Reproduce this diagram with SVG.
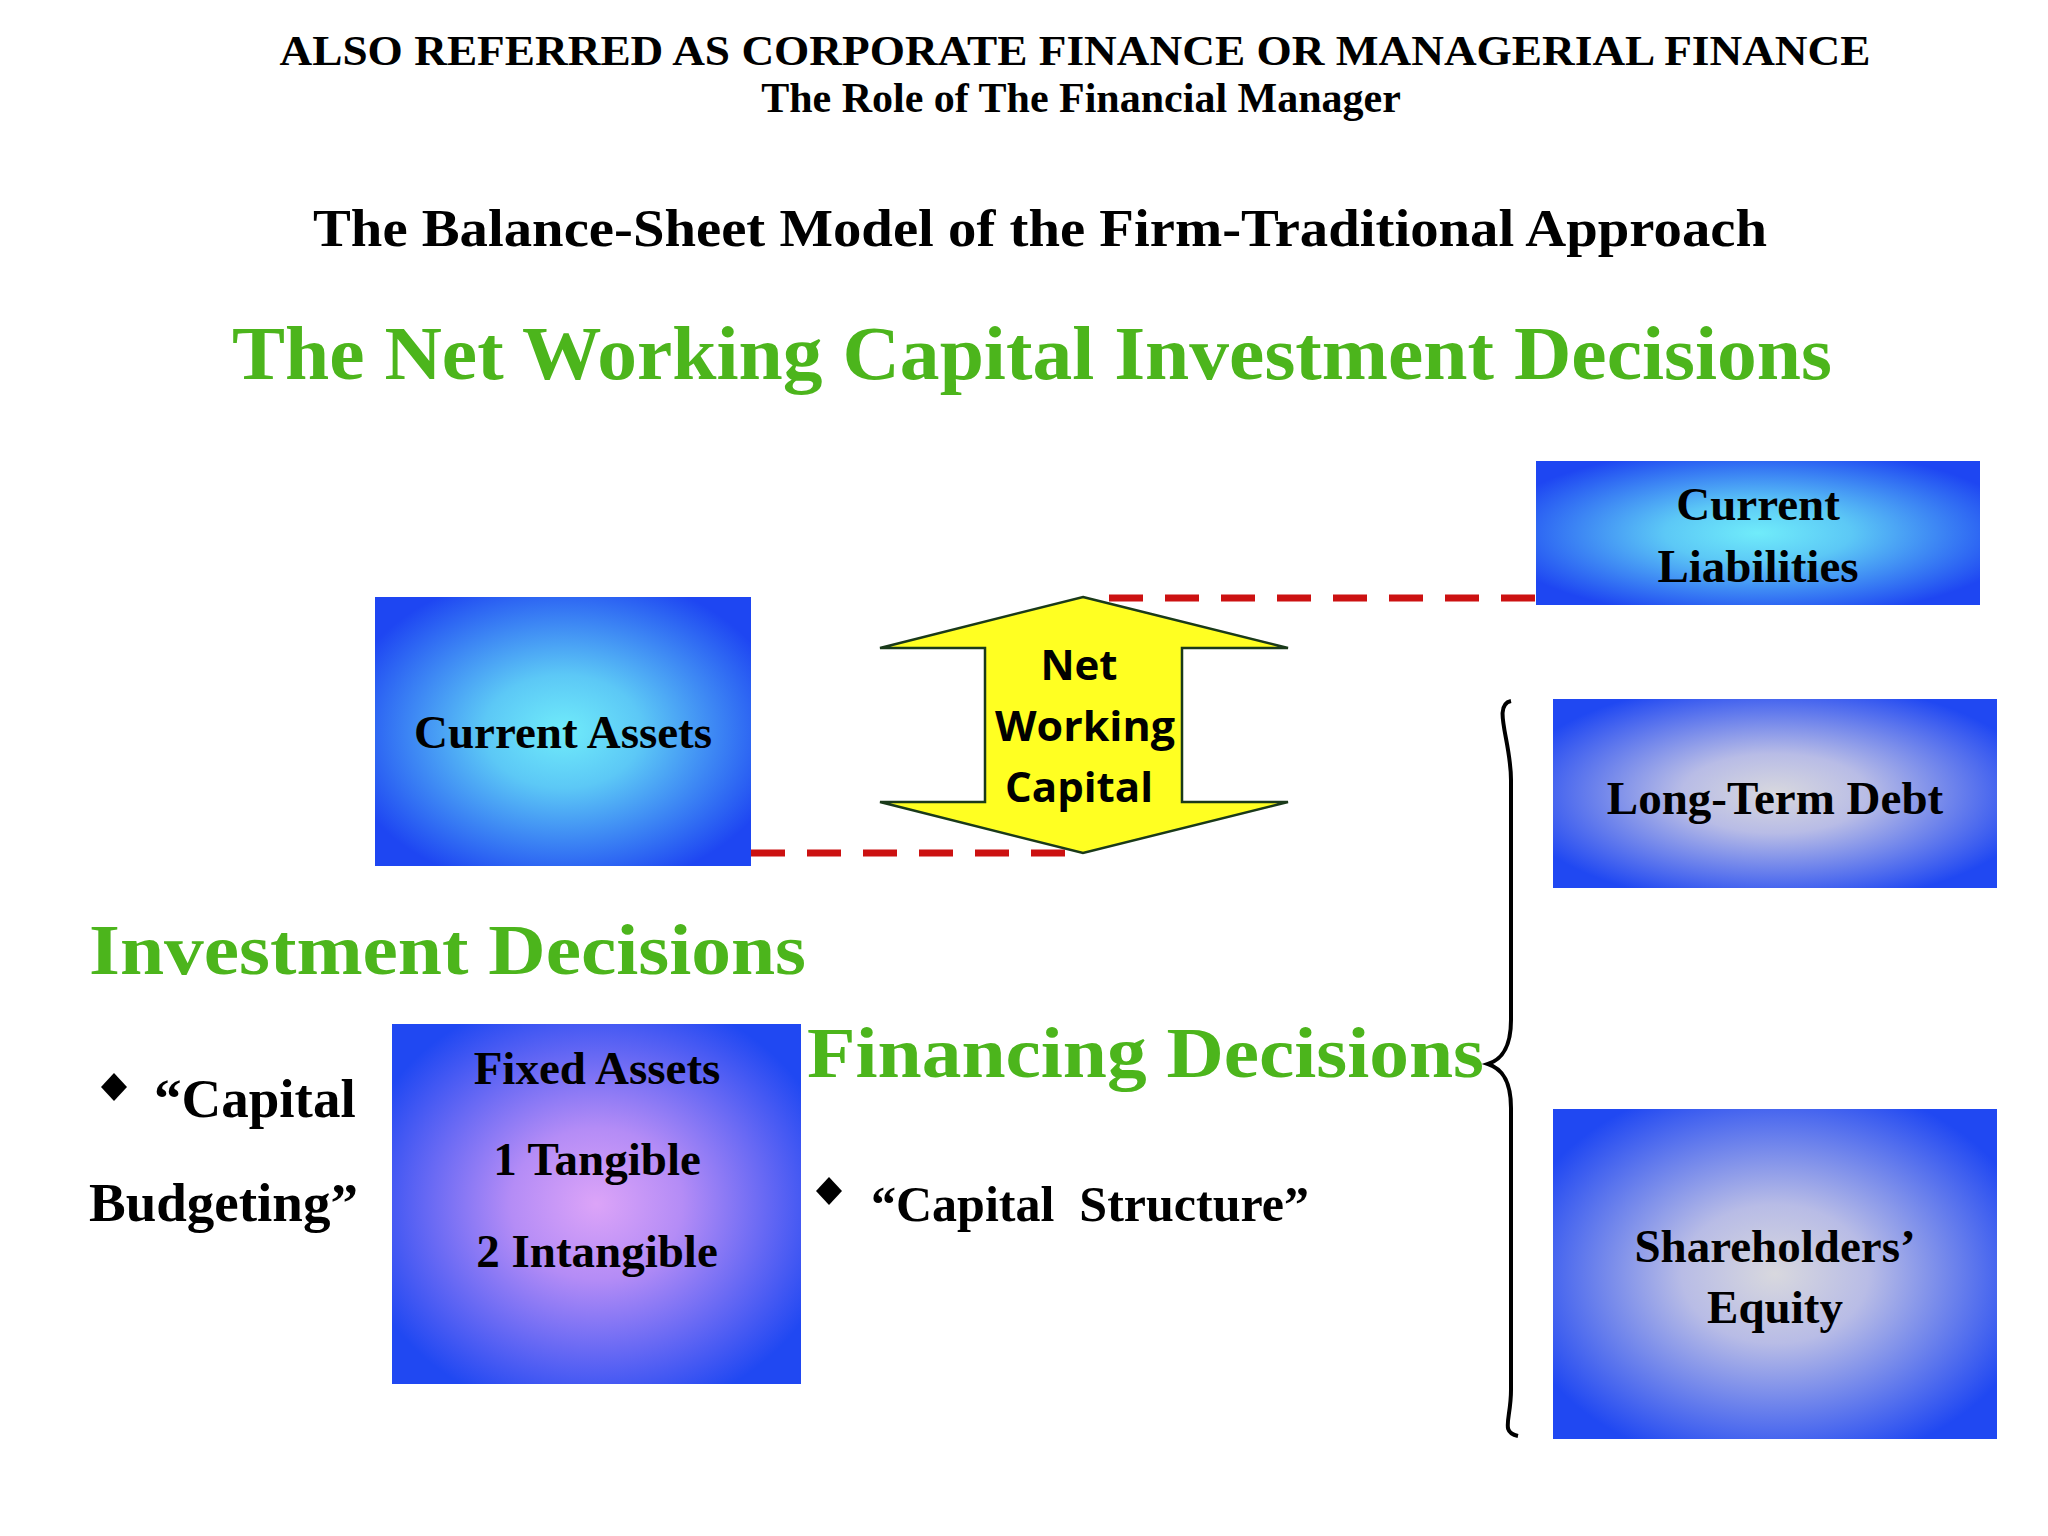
<svg xmlns="http://www.w3.org/2000/svg" width="2048" height="1536" viewBox="0 0 2048 1536">
<defs>
<style>
.t{font-family:"Liberation Serif","Times New Roman",serif;font-weight:bold;fill:#000}
.g{font-family:"Liberation Serif","Times New Roman",serif;font-weight:bold;fill:#4cb51c}
.c{text-anchor:middle}
.d{stroke:#cc1111;stroke-width:7;stroke-dasharray:34,22;fill:none}
</style>
<radialGradient id="cy" cx="50%" cy="50%" r="60%"><stop offset="0" stop-color="#70ecfa"/><stop offset="0.35" stop-color="#5cc8f6"/><stop offset="1" stop-color="#1e46f2"/></radialGradient>
<radialGradient id="vi" cx="50%" cy="50%" r="60%"><stop offset="0" stop-color="#dca4f8"/><stop offset="0.35" stop-color="#b48cf6"/><stop offset="1" stop-color="#2048f2"/></radialGradient>
<radialGradient id="gr" cx="50%" cy="50%" r="60%"><stop offset="0" stop-color="#d8d8de"/><stop offset="0.35" stop-color="#b8bce6"/><stop offset="1" stop-color="#2048f2"/></radialGradient>
</defs>
<g id="titles">
<text class="t c" x="1075" y="65" font-size="42" textLength="1591" lengthAdjust="spacingAndGlyphs">ALSO REFERRED AS CORPORATE FINANCE OR MANAGERIAL FINANCE</text>
<text class="t c" x="1081" y="112" font-size="42">The Role of The Financial Manager</text>
<text class="t c" x="1040" y="246" font-size="53" textLength="1454" lengthAdjust="spacingAndGlyphs">The Balance-Sheet Model of the Firm-Traditional Approach</text>
<text class="g c" x="1032" y="379" font-size="76" textLength="1600" lengthAdjust="spacingAndGlyphs">The Net Working Capital Investment Decisions</text>
</g>
<g id="connectors">
<line class="d" x1="1109" y1="598" x2="1541" y2="598"/>
<line class="d" x1="751" y1="853" x2="1083" y2="853"/>
<path d="M1511,701 C1492,705 1511,740 1511,780 L1511,1020 C1511,1050 1500,1060 1488,1064 C1500,1068 1511,1078 1511,1108 L1511,1390 C1511,1420 1500,1432 1518,1436" fill="none" stroke="#000" stroke-width="4"/>
</g>
<g id="current-liabilities">
<rect x="1536" y="461" width="444" height="144" fill="url(#cy)"/>
<text class="t c" x="1758" y="520" font-size="47">Current</text>
<text class="t c" x="1758" y="582" font-size="47">Liabilities</text>
</g>
<g id="current-assets">
<rect x="375" y="597" width="376" height="269" fill="url(#cy)"/>
<text class="t c" x="563" y="748" font-size="47">Current Assets</text>
</g>
<g id="nwc">
<polygon points="1083,597 1288,648 1182,648 1182,802 1288,802 1083,853 880,802 985,802 985,648 880,648" fill="#ffff22" stroke="#1a3a1a" stroke-width="2.5"/>
<g font-family="'Open Sans','Noto Sans',sans-serif" font-weight="bold" font-size="42" text-anchor="middle">
<text x="1079" y="680">Net</text>
<text x="1085" y="741" textLength="180" lengthAdjust="spacingAndGlyphs">Working</text>
<text x="1079" y="802">Capital</text>
</g>
</g>
<g id="long-term-debt">
<rect x="1553" y="699" width="444" height="189" fill="url(#gr)"/>
<text class="t c" x="1775" y="814" font-size="47">Long-Term Debt</text>
</g>
<g id="equity">
<rect x="1553" y="1109" width="444" height="330" fill="url(#gr)"/>
<text class="t c" x="1775" y="1262" font-size="47">Shareholders’</text>
<text class="t c" x="1775" y="1323" font-size="47">Equity</text>
</g>
<g id="fixed-assets">
<rect x="392" y="1024" width="409" height="360" fill="url(#vi)"/>
<text class="t c" x="597" y="1084" font-size="47">Fixed Assets</text>
<text class="t c" x="597" y="1175" font-size="47">1 Tangible</text>
<text class="t c" x="597" y="1267" font-size="47">2 Intangible</text>
</g>
<g id="investment">
<text class="g" x="89" y="974" font-size="72" textLength="717" lengthAdjust="spacingAndGlyphs">Investment Decisions</text>
<polygon points="114,1073 127,1087 114,1101 101,1087" fill="#000"/>
<text class="t" x="154" y="1117" font-size="55">“Capital</text>
<text class="t" x="89" y="1221" font-size="55">Budgeting”</text>
</g>
<g id="financing">
<text class="g" x="807" y="1077" font-size="72" textLength="677" lengthAdjust="spacingAndGlyphs">Financing Decisions</text>
<polygon points="829,1177 842,1191 829,1205 816,1191" fill="#000"/>
<text class="t" x="871" y="1221" font-size="50" xml:space="preserve">“Capital  Structure”</text>
</g>
</svg>
